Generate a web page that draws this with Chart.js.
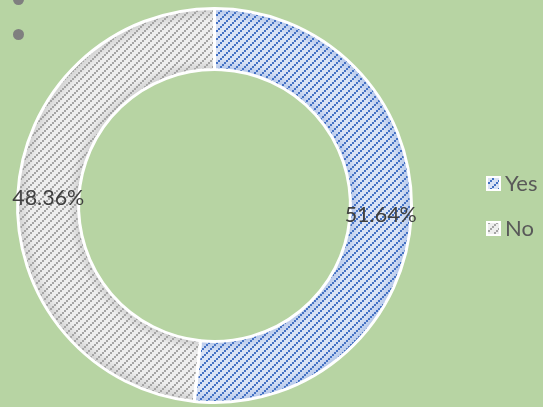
<!DOCTYPE html>
<html>
<head>
<meta charset="utf-8">
<script src="https://cdn.jsdelivr.net/npm/chart.js@4/dist/chart.umd.min.js"></script>
<style>
  html, body { margin: 0; padding: 0; background: #b7d4a3; }
  #wrap { position: relative; width: 543px; height: 407px; overflow: hidden; }
  #wrap canvas { position: absolute; left: 0; top: 0; }
  .dot { position: absolute; left: 13px; width: 11px; height: 11px; border-radius: 50%; background: #7f7f7f; }
</style>
</head>
<body>
<div id="wrap">
  <canvas id="ring" width="543" height="407"></canvas>
  <span class="dot" style="top:-6px"></span>
  <span class="dot" style="top:29px"></span>
</div>
<script>
const categories = ['Yes', 'No'];
const shares = [51.64, 48.36];
const inkColors = ['#4472c4', '#a5a5a5'];
const baseColors = ['#dae3f5', '#eeeeee'];
const edgeColors = ['#b4c6ea', '#d0d0d0'];

// 8x8 tile of 2px blocks stepping up to the right, transparent between strokes
function hatch(ink, base) {
  const tile = document.createElement('canvas');
  tile.width = tile.height = 8;
  const g = tile.getContext('2d');
  if (base) { g.fillStyle = base; g.fillRect(0, 0, 8, 8); }
  g.fillStyle = ink;
  for (let by = 0; by < 4; by++) {
    for (let bx = 0; bx < 4; bx++) {
      if ((bx + by) % 4 === 3) g.fillRect(bx * 2, by * 2, 2, 2);
    }
  }
  return g.createPattern(tile, 'repeat');
}

const fills = inkColors.map(c => hatch(c));
const swatches = inkColors.map((c, i) => hatch(c, baseColors[i]));

// soft shaded base under the hatching
const ringShade = {
  id: 'ringShade',
  beforeDatasetsDraw(chart) {
    const ctx = chart.ctx;
    chart.getDatasetMeta(0).data.forEach((arc, i) => {
      const p = arc.getProps(['x', 'y', 'startAngle', 'endAngle', 'innerRadius', 'outerRadius']);
      const grad = ctx.createRadialGradient(p.x, p.y, p.innerRadius, p.x, p.y, p.outerRadius);
      grad.addColorStop(0, edgeColors[i]);
      grad.addColorStop(0.18, baseColors[i]);
      grad.addColorStop(0.8, baseColors[i]);
      grad.addColorStop(1, edgeColors[i]);
      ctx.save();
      ctx.beginPath();
      ctx.arc(p.x, p.y, p.outerRadius, p.startAngle, p.endAngle);
      ctx.arc(p.x, p.y, p.innerRadius, p.endAngle, p.startAngle, true);
      ctx.closePath();
      ctx.fillStyle = grad;
      ctx.fill();
      ctx.restore();
    });
  }
};

// percentage labels at the middle of each segment
const shareLabels = {
  id: 'shareLabels',
  afterDatasetsDraw(chart) {
    const ctx = chart.ctx;
    ctx.save();
    ctx.font = '21.5px Lato';
    ctx.fillStyle = '#404040';
    ctx.textAlign = 'center';
    ctx.textBaseline = 'middle';
    chart.getDatasetMeta(0).data.forEach((arc, i) => {
      const pos = arc.tooltipPosition();
      ctx.fillText(shares[i].toFixed(2) + '%', pos.x, pos.y + 1);
    });
    ctx.restore();
  }
};

// legend to the right of the ring
const sideLegend = {
  id: 'sideLegend',
  afterDraw(chart) {
    const ctx = chart.ctx;
    const cy = (chart.chartArea.top + chart.chartArea.bottom) / 2;
    const x = 488;
    const step = 45;
    ctx.save();
    ctx.font = '22px Lato';
    ctx.textBaseline = 'middle';
    categories.forEach((name, i) => {
      const y = cy + (i - (categories.length - 1) / 2) * step;
      ctx.fillStyle = '#ffffff';
      ctx.fillRect(x - 2, y - 7, 15, 15);
      ctx.fillStyle = swatches[i];
      ctx.fillRect(x, y - 5, 11, 11);
      ctx.fillStyle = '#595959';
      ctx.fillText(name, x + 17, y + 1);
    });
    ctx.restore();
  }
};

new Chart(document.getElementById('ring'), {
  type: 'doughnut',
  data: {
    labels: categories,
    datasets: [{
      data: shares,
      backgroundColor: fills,
      borderColor: '#ffffff',
      borderWidth: 3,
      hoverBorderWidth: 3
    }]
  },
  options: {
    responsive: false,
    animation: false,
    events: [],
    cutout: '69%',
    layout: { padding: { left: 16, right: 130, top: 7, bottom: 3 } },
    plugins: {
      legend: { display: false },
      tooltip: { enabled: false }
    }
  },
  plugins: [ringShade, shareLabels, sideLegend]
});
</script>
</body>
</html>
